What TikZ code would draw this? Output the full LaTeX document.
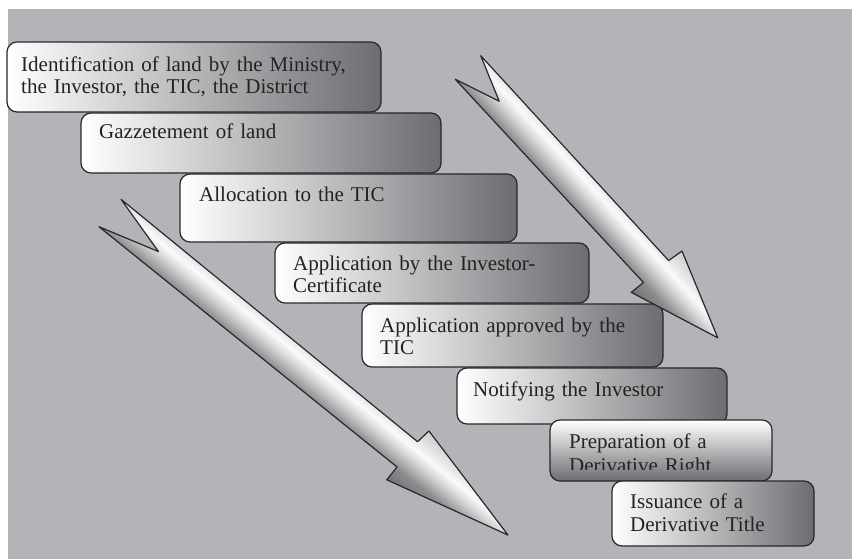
\documentclass[tikz,border=0pt]{standalone}
\usepackage{fontspec}
\setmainfont{Liberation Serif}
\definecolor{bggray}{RGB}{179,180,184}
\definecolor{edge}{RGB}{40,40,43}
\definecolor{boxdark}{RGB}{108,109,113}
\definecolor{txt}{RGB}{35,35,35}
\pgfdeclareverticalshading{arrowshade}{100bp}{rgb(0bp)=(0.45,0.45,0.46); rgb(25bp)=(0.45,0.45,0.46); rgb(37bp)=(0.55,0.55,0.56); rgb(50bp)=(0.85,0.85,0.86); rgb(57bp)=(0.98,0.98,0.98); rgb(63bp)=(0.91,0.91,0.92); rgb(75bp)=(0.80,0.80,0.81); rgb(100bp)=(0.80,0.80,0.81)}
\tikzset{
  boxbase/.style={draw=edge, line width=1.2pt, rounded corners=10pt, anchor=north west, inner sep=0pt, outer sep=0pt},
  stepbox/.style={boxbase, left color=white, right color=boxdark},
  vstepbox/.style={boxbase, top color=white, bottom color=boxdark},
  lbl/.style={anchor=base west, text width=420pt, align=left, inner sep=0pt, font=\fontsize{21}{22}\selectfont, text=txt},
  bigarrow/.style={shading=arrowshade, draw=edge, line width=1.2pt, line join=round}
}
\begin{document}
\begin{tikzpicture}[x=1pt,y=-1pt]
\useasboundingbox (0,0) rectangle (852,559);
\fill[white] (0,0) rectangle (852,559);
\fill[bggray] (8,9) rectangle (852,559);

% boxes
\node[stepbox, minimum width=374pt, minimum height=70pt] (b1) at (7,42) {};
\node[lbl] (t1) at ([shift={(14,30)}]b1.north west) {Identification of land by the Ministry,\\the Investor, the TIC, the District};

\node[stepbox, minimum width=360pt, minimum height=60pt] (b2) at (81,113) {};
\node[lbl] (t2) at ([shift={(18,26)}]b2.north west) {Gazzetement of land};

\node[stepbox, minimum width=337pt, minimum height=68pt] (b3) at (180,174) {};
\node[lbl] (t3) at ([shift={(19,28)}]b3.north west) {Allocation to the TIC};

\node[stepbox, minimum width=314pt, minimum height=60pt] (b4) at (275,243) {};
\node[lbl] (t4) at ([shift={(18,27)}]b4.north west) {Application by the Investor-\\Certificate};

\node[stepbox, minimum width=301pt, minimum height=63pt] (b5) at (362,304) {};
\node[lbl] (t5) at ([shift={(18,28)}]b5.north west) {Application approved by the\\TIC};

\node[stepbox, minimum width=270pt, minimum height=56pt] (b6) at (457,368) {};
\node[lbl] (t6) at ([shift={(16,28)}]b6.north west) {Notifying the Investor};

\node[vstepbox, minimum width=222pt, minimum height=61pt] (b7) at (550,420) {};
\begin{scope}
  \clip (550,420) rectangle (772,469);
  \node[lbl] (t7) at ([shift={(19,28)}]b7.north west) {Preparation of a\\[2pt]Derivative Right};
\end{scope}

\node[stepbox, minimum width=202pt, minimum height=65pt] (b8) at (612,481) {};
\node[lbl] (t8) at ([shift={(18,27)}]b8.north west) {Issuance of a\\[1.5pt]Derivative Title};

% left big arrow
\begin{scope}[transform canvas={shift={(110,213)}, rotate=-39.07}]
  \shadedraw[bigarrow] (0,-17.6) -- (62,-0.6) -- (0,17.6) -- (383,16.3) -- (383,32.7) -- (512,-0.8) -- (385,-31.8) -- (383,-16.3) -- cycle;
\end{scope}

% right big arrow
\begin{scope}[transform canvas={shift={(468,67.5)}, rotate=-47.34}]
  \shadedraw[bigarrow] (0,-17.35) -- (46,-0.1) -- (0,17.35) -- (277,16.7) -- (276,32.3) -- (368,-0.5) -- (280,-33) -- (278,-16.7) -- cycle;
\end{scope}
\end{tikzpicture}
\end{document}
